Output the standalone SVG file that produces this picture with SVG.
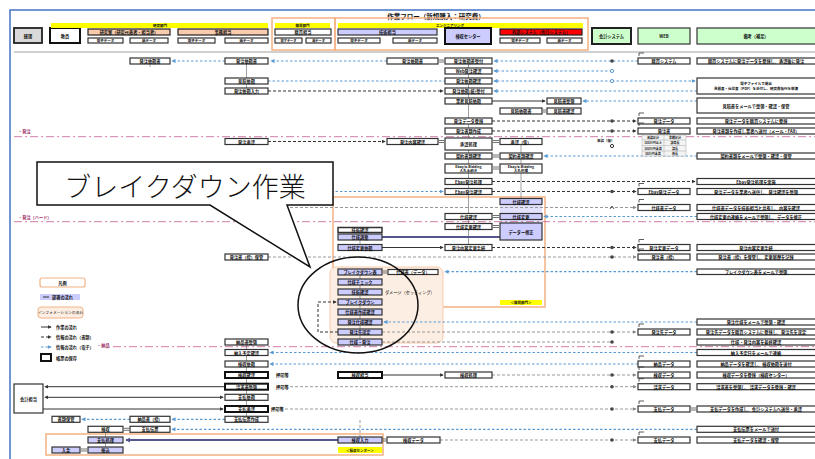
<svg xmlns="http://www.w3.org/2000/svg" width="815" height="459" viewBox="0 0 815 459">
<style>
.t{font-family:"Noto Sans CJK JP","Noto Sans",sans-serif;font-size:4.2px;fill:#111;text-anchor:middle;dominant-baseline:central;font-weight:bold}
.tl{font-family:"Noto Sans CJK JP","Noto Sans",sans-serif;font-size:4.2px;fill:#111;dominant-baseline:central;font-weight:bold}
.tp{font-family:"Noto Sans CJK JP","Noto Sans",sans-serif;font-size:4.2px;fill:#a0306a;dominant-baseline:central;font-weight:bold}
.w{fill:#fff;stroke:#333;stroke-width:1.2}
.bw{fill:#fff;stroke:#111;stroke-width:2}
.p{fill:#ccccff;stroke:#333;stroke-width:1.2}
.gb{fill:#ccffcc;stroke:#333;stroke-width:1.2}
.ob{fill:none;stroke:#f4b183;stroke-width:1.5}
.y{fill:#ffff00}
.bl{stroke:#5b9bd5;stroke-width:1.2;stroke-dasharray:2.5 2;fill:none}
.bk{stroke:#333;stroke-width:1;stroke-dasharray:3 2;fill:none}
.gy{stroke:#999;stroke-width:1;stroke-dasharray:3 2;fill:none}
.sl{stroke:#333;stroke-width:1;fill:none}
.pk{stroke:#c0508a;stroke-width:1;stroke-dasharray:8 3 2 3;fill:none;opacity:.75}
.pu{stroke:#55558f;stroke-width:2;fill:none}
.vt{stroke:#888;stroke-width:.8;fill:none}
.eq{stroke:#333;stroke-width:.7;fill:none}
.dt{fill:#444}
.ic{stroke:#333;stroke-width:.8;fill:none}
</style>
<defs>
<marker id="ak" viewBox="0 0 6 6" refX="5" refY="3" markerWidth="4" markerHeight="4" orient="auto-start-reverse"><path d="M0,0L6,3L0,6z" fill="#333"/></marker>
<marker id="ab" viewBox="0 0 6 6" refX="5" refY="3" markerWidth="3.5" markerHeight="3.5" orient="auto"><path d="M0,0L6,3L0,6z" fill="#5b9bd5"/></marker>
<marker id="ag" viewBox="0 0 6 6" refX="5" refY="3" markerWidth="4" markerHeight="4" orient="auto"><path d="M0,0L6,3L0,6z" fill="#888"/></marker>
<marker id="ap" viewBox="0 0 6 6" refX="5" refY="3" markerWidth="2.5" markerHeight="2.5" orient="auto"><path d="M0,0L6,3L0,6z" fill="#55558f"/></marker>
</defs>
<rect width="815" height="459" fill="#fff"/>
<g id="frame">
<path d="M10,459V10H815" fill="none" stroke="#4472c4" stroke-width="1.5"/>
<text x="436" y="16" class="t" style="font-size:6.5px">作業フロー（新規購入：研究費）</text>
<line x1="14" y1="52" x2="815" y2="52" stroke="#d0d0d0" stroke-width="2"/>
</g>
<g id="header">
<g id="h-keiri"><rect x="14" y="28" width="28" height="15" fill="#d9d9d9" stroke="#222" stroke-width="1.8"/><text x="28" y="35.5" class="t">経理</text></g>
<g id="h-kyoin"><rect x="50" y="28" width="30" height="15" class="bw"/><text x="65" y="35.5" class="t">教員</text></g>
<g id="h-deptA"><rect x="51" y="23" width="217" height="5" class="y"/><text x="160" y="25.5" class="t" style="font-size:3.5px">研究部門</text>
<rect x="88" y="29" width="82" height="6" fill="#f8cbad" stroke="#222" stroke-width="1.2"/><text x="129" y="32" class="t">研究室（研究代表者・担当者）</text>
<rect x="178" y="29" width="90" height="6" fill="#f8cbad" stroke="#222" stroke-width="1.2"/><text x="223" y="32" class="t">事務担当</text>
<rect x="88" y="38" width="35" height="5" class="w"/><text x="105.5" y="40.5" class="t" style="font-size:3.5px">電子データ</text>
<rect x="130" y="38" width="38" height="5" class="w"/><text x="149" y="40.5" class="t" style="font-size:3.5px">紙データ</text>
<rect x="178" y="38" width="37" height="5" class="w"/><text x="196.5" y="40.5" class="t" style="font-size:3.5px">電子データ</text>
<rect x="225" y="38" width="43" height="5" class="w"/><text x="246.5" y="40.5" class="t" style="font-size:3.5px">紙データ</text></g>
<g id="h-deptB"><rect x="272" y="18" width="63" height="32" class="ob"/>
<rect x="275" y="23" width="55" height="5" class="y"/><text x="302.5" y="25.5" class="t" style="font-size:3.5px">購買部門</text>
<rect x="275" y="29" width="56" height="6" class="w"/><text x="303" y="32" class="t">購買担当</text>
<rect x="275" y="38" width="27" height="5" class="w"/><text x="288.5" y="40.5" class="t" style="font-size:3.2px">電子データ</text>
<rect x="306" y="38" width="25" height="5" class="w"/><text x="318.5" y="40.5" class="t" style="font-size:3.2px">紙データ</text></g>
<g id="h-deptC"><rect x="335" y="18" width="253" height="32" class="ob"/>
<rect x="338" y="23" width="245" height="5" class="y"/><text x="450" y="25.5" class="t" style="font-size:3.5px">エンジニアリング</text>
<rect x="338" y="29" width="99" height="6" class="p"/><text x="387.5" y="32" class="t">技術担当</text>
<rect x="445" y="28" width="46" height="16" fill="#ccccff" stroke="#111" stroke-width="2"/><text x="468" y="36" class="t">検収センター</text>
<rect x="500" y="29" width="82" height="6" fill="#ff0000" stroke="#222" stroke-width="1.2"/><text x="541" y="32" class="t">外部システム（会計システム）</text>
<rect x="338" y="38" width="42" height="5" class="w"/><text x="359" y="40.5" class="t" style="font-size:3.5px">電子データ</text>
<rect x="393" y="38" width="44" height="5" class="w"/><text x="415" y="40.5" class="t" style="font-size:3.5px">紙データ</text>
<rect x="500" y="38" width="40" height="5" class="w"/><text x="520" y="40.5" class="t" style="font-size:3.5px">電子データ</text>
<rect x="547" y="38" width="35" height="5" class="w"/><text x="564.5" y="40.5" class="t" style="font-size:3.5px">紙データ</text></g>
<g id="h-sys"><rect x="592" y="28" width="39" height="16" fill="#ccffcc" stroke="#222" stroke-width="2"/><text x="611.5" y="36" class="t">会計システム</text></g>
<g id="h-web"><rect x="638" y="28" width="52" height="16" class="gb"/><text x="664" y="36" class="t">WEB</text></g>
<g id="h-note"><rect x="697" y="28" width="122" height="16" class="gb"/><text x="756" y="36" class="t">備考（補足）</text></g>
</g>
<g id="regions">
<rect x="333" y="197" width="212" height="110" class="ob"/>
<rect x="500" y="199" width="42" height="41" fill="#e2e2ff"/>
<rect x="330" y="267" width="113" height="76" rx="6" fill="#fdeee3" stroke="#f8cbad" stroke-width="1"/>
<rect x="46" y="434" width="337" height="21" class="ob"/>
<rect x="500" y="300" width="42" height="5" class="y"/><text x="521" y="302.5" class="t" style="font-size:3.5px">＜購買部門＞</text>
<rect x="338" y="447" width="44" height="6" class="y"/><text x="360" y="450" class="t" style="font-size:3.5px">＜検収センター＞</text>
</g>
<g id="connectors">
<path class="vt" d="M468.5,61V250M521,141V200M360,233V245M360,272V342M246.5,64V78M246.5,84V88M246.5,344V350M246.5,355V361M246.5,367V372M246.5,378V384M246.5,389V394M246.5,400V406M246.5,412V416M150,64V67M105.5,432V447"/>
<path class="gy" d="M360,420V437"/>
<path class="pk" d="M14,136.7H815M14,221.7H815M113,346.7H815"/>
<path class="bl" d="M387,61H271" marker-end="url(#ab)"/>
<path class="bl" d="M225,61H172" marker-end="url(#ab)"/>
<path class="bl" d="M638,61H494" marker-end="url(#ab)"/>
<path class="bl" d="M612,71H494" marker-end="url(#ab)"/>
<path class="bl" d="M268,81H445"/>
<path class="bl" d="M612,81H494" marker-end="url(#ab)"/>
<path class="bl" d="M612,81H695" marker-end="url(#ab)"/>
<path class="bk" d="M268,91H443" marker-end="url(#ak)"/>
<path class="bl" d="M697,91H494" marker-end="url(#ab)"/>
<path class="sl" d="M492,101H545" marker-end="url(#ak)"/>
<path class="bl" d="M697,101H583" marker-end="url(#ab)"/>
<path class="bk" d="M492,121H636" marker-end="url(#ak)"/>
<path class="bk" d="M492,131H636" marker-end="url(#ak)"/>
<path class="bk" d="M268,141.5H385" marker-end="url(#ak)"/>
<path class="bl" d="M697,156H544" marker-end="url(#ab)"/>
<path class="bk" d="M492,181.5H695" marker-end="url(#ak)"/>
<path class="bl" d="M268,191.5H443" marker-end="url(#ab)"/>
<path class="bk" d="M492,191.5H636" marker-end="url(#ak)"/>
<path class="gy" d="M270,207.5H636" marker-end="url(#ag)"/>
<path class="bl" d="M697,216.5H544" marker-end="url(#ab)"/>
<path class="pu" d="M382,237H500"/>
<path class="sl" d="M382,247.5H443" marker-end="url(#ak)"/>
<path class="bk" d="M492,247.5H636" marker-end="url(#ak)"/>
<path class="gy" d="M268,257H636" marker-end="url(#ag)"/>
<path class="bl" d="M697,271.7H445" marker-end="url(#ab)"/>
<path class="bk" d="M338,332H318V302H336" marker-end="url(#ak)"/>
<path class="bl" d="M697,322H384" marker-end="url(#ab)"/>
<path class="gy" d="M382,332H636" marker-end="url(#ag)"/>
<path class="gy" d="M382,342H610"/>
<path class="bl" d="M697,352.5H270" marker-end="url(#ab)"/>
<path class="bl" d="M638,364H270" marker-end="url(#ab)"/>
<path class="sl" d="M382,375H443" marker-end="url(#ak)"/>
<path class="gy" d="M492,375H636" marker-end="url(#ag)"/>
<path class="sl" d="M225,386.7H45" marker-end="url(#ak)"/>
<path class="gy" d="M290,386.7H636" marker-end="url(#ag)"/>
<path class="sl" d="M45,397.3H223" marker-start="url(#ak)" marker-end="url(#ak)"/>
<path class="sl" d="M43,409H223" marker-end="url(#ak)"/>
<path class="gy" d="M280,409H636" marker-end="url(#ag)"/>
<path class="bl" d="M225,419.3H172" marker-end="url(#ab)"/>
<path class="bl" d="M130,419.3H82" marker-end="url(#ab)"/>
<path class="bl" d="M697,429.3H172" marker-end="url(#ab)"/>
<path class="pu" d="M338,440H126" marker-end="url(#ap)"/>
<path class="gy" d="M440,440H636" marker-end="url(#ag)"/>
<path class="eq" d="M439,60h5M439,62h5M543,110h3M543,112h3M439,140.5h5M439,142.5h5M493,140.5h6M493,142.5h6M493,155h6M493,157h6M493,167h6M493,169h6M493,215.5h6M493,217.5h6M493,225.5h6M493,227.5h6M383,271h4M383,273h4M124,428.3h5M124,430.3h5M383,439h3M383,441h3M81,449h6M81,451h6M691,408h5M691,410h5"/>
<g id="dots">
<circle cx="612" cy="61" r="1.8" class="dt"/><circle cx="612" cy="71" r="1.6" fill="#fff" stroke="#5b9bd5"/><circle cx="612" cy="81" r="1.6" fill="#fff" stroke="#5b9bd5"/>
<circle cx="612" cy="121" r="1.8" class="dt"/><circle cx="612" cy="131" r="1.8" class="dt"/><circle cx="612" cy="146" r="1.6" fill="#fff" stroke="#333"/>
<circle cx="612" cy="191.5" r="1.8" class="dt"/><path d="M610,209l2,-3l2,3" class="ic"/>
<circle cx="612" cy="247.5" r="1.8" class="dt"/><circle cx="612" cy="257" r="1.8" class="dt"/>
<circle cx="612" cy="332" r="1.8" class="dt"/><circle cx="612" cy="342" r="1.8" class="dt"/>
<circle cx="612" cy="375" r="1.8" class="dt"/><circle cx="612" cy="386.7" r="1.8" class="dt"/><circle cx="612" cy="409" r="1.8" class="dt"/><circle cx="612" cy="440" r="1.8" class="dt"/>
</g>
</g>
<g id="nodes">
<g id="nA1"><rect x="130" y="58" width="40" height="6" class="w"/><text x="150" y="61" class="t">発注依頼書</text></g>
<g id="nA2"><rect x="130" y="416.3" width="40" height="6" class="w"/><text x="150" y="419.3" class="t">納品書（控）</text></g>
<g id="nA3"><rect x="130" y="426.3" width="40" height="6" class="w"/><text x="150" y="429.3" class="t">支払伝票</text></g>
<g id="nA0"><rect x="52" y="416.3" width="28" height="6" class="w"/><text x="66" y="419.3" class="t">書類保管</text></g>
<g id="nL1"><rect x="88" y="426.3" width="35" height="6" class="w"/><text x="105.5" y="429.3" class="t">検収</text></g>
<g id="nL2"><rect x="88" y="437" width="35" height="6" class="p"/><text x="105.5" y="440" class="t">支払処理</text></g>
<g id="nL3"><rect x="88" y="447" width="35" height="6" class="p"/><text x="105.5" y="450" class="t">振込</text></g>
<g id="nL0"><rect x="52" y="447" width="28" height="6" class="p"/><text x="66" y="450" class="t">入金</text></g>
<g id="nLeft"><rect x="14" y="384" width="29" height="29" class="w"/><text x="28.5" y="398.5" class="t">会計担当</text></g>
<g id="nB1"><rect x="225" y="58" width="43" height="6" class="w"/><text x="246.5" y="61" class="t">発注依頼書</text></g>
<g id="nB3"><rect x="225" y="78" width="43" height="6" class="w"/><text x="246.5" y="81" class="t">見積依頼</text></g>
<g id="nB4"><rect x="225" y="88" width="43" height="6" class="w"/><text x="246.5" y="91" class="t">発注依頼入力</text></g>
<g id="nB9"><rect x="225" y="138.5" width="43" height="6" class="w"/><text x="246.5" y="141.5" class="t">発注承認</text></g>
<g id="nB257"><rect x="225" y="254" width="43" height="6" class="w"/><text x="246.5" y="257" class="t">発注書（控）保管</text></g>
<g id="nB342"><rect x="225" y="339" width="43" height="6" class="w"/><text x="246.5" y="342" class="t">納品書受領</text></g>
<g id="nB352"><rect x="225" y="349.5" width="43" height="6" class="w"/><text x="246.5" y="352.5" class="t">納入予定確認</text></g>
<g id="nB364"><rect x="225" y="361" width="43" height="6" class="w"/><text x="246.5" y="364" class="t">検収依頼</text></g>
<g id="nB375"><rect x="225" y="372" width="43" height="6" class="bw"/><text x="246.5" y="375" class="t">検収確認</text><text x="276" y="375" class="tl">押印等</text></g>
<g id="nB386"><rect x="225" y="383.7" width="43" height="6" class="bw"/><text x="246.5" y="386.7" class="t">請求書受領</text><text x="276" y="386.7" class="tl">押印等</text></g>
<g id="nB397"><rect x="225" y="394.3" width="43" height="6" class="w"/><text x="246.5" y="397.3" class="t">支払依頼</text></g>
<g id="nB409"><rect x="225" y="406" width="43" height="6" class="bw"/><text x="246.5" y="409" class="t">支払承認</text><text x="271" y="409" class="tl">押印等</text></g>
<g id="nB419"><rect x="225" y="416.3" width="43" height="6" class="w"/><text x="246.5" y="419.3" class="t">支払伝票作成</text></g>
<g id="nC1"><rect x="387" y="58" width="51" height="6" class="w"/><text x="412.5" y="61" class="t">発注依頼書</text></g>
<g id="nC9"><rect x="387" y="138.5" width="51" height="6" class="w"/><text x="412.5" y="141.5" class="t">発注内容確認</text></g>
<g id="nD1"><rect x="445" y="58" width="47" height="6" class="w"/><text x="468.5" y="61" class="t">発注依頼書受付</text></g>
<g id="nD2"><rect x="445" y="68" width="47" height="6" class="w"/><text x="468.5" y="71" class="t">Web発注確認</text></g>
<g id="nD3"><rect x="445" y="78" width="47" height="6" class="w"/><text x="468.5" y="81" class="t">発注依頼確認</text></g>
<g id="nD4"><rect x="445" y="88" width="47" height="6" class="w"/><text x="468.5" y="91" class="t">発注依頼(紙)受付</text></g>
<g id="nD5"><rect x="445" y="98" width="47" height="6" class="w"/><text x="468.5" y="101" class="t">業者見積依頼</text></g>
<g id="nD7"><rect x="445" y="118" width="47" height="6" class="w"/><text x="468.5" y="121" class="t">発注データ登録</text></g>
<g id="nD8"><rect x="445" y="128" width="47" height="6" class="w"/><text x="468.5" y="131" class="t">発注書類作成</text></g>
<g id="nD9"><rect x="445" y="138" width="47" height="12" class="w"/><text x="468.5" y="144" class="t">承認処理</text></g>
<g id="nD10"><rect x="445" y="153" width="47" height="6" class="w"/><text x="468.5" y="156" class="t">契約書類確認</text></g>
<g id="nD11"><rect x="445" y="164" width="47" height="9" class="w"/><text x="468.5" y="166.5" class="t" style="font-size:3.5px">Ebay/e-Bidding</text><text x="468.5" y="170.5" class="t" style="font-size:3.5px">入札手続き</text></g>
<g id="nD12"><rect x="445" y="178.5" width="47" height="6" class="w"/><text x="468.5" y="181.5" class="t">Ebay発注処理</text></g>
<g id="nD13"><rect x="445" y="188.5" width="47" height="6" class="w"/><text x="468.5" y="191.5" class="t">Ebay発注確認</text></g>
<g id="nD216"><rect x="445" y="213.5" width="47" height="6" class="w"/><text x="468.5" y="216.5" class="t">仕様確認</text></g>
<g id="nD226"><rect x="445" y="223.5" width="47" height="6" class="w"/><text x="468.5" y="226.5" class="t">仕様変更確認</text></g>
<g id="nD247"><rect x="445" y="244.5" width="47" height="6" class="w"/><text x="468.5" y="247.5" class="t">発注内容変更手続</text></g>
<g id="nD375"><rect x="445" y="372" width="47" height="6" class="w"/><text x="468.5" y="375" class="t">検収処理</text></g>
<g id="nE6"><rect x="500" y="108" width="42" height="6" class="w"/><text x="521" y="111" class="t">見積依頼書</text></g>
<g id="nE9"><rect x="500" y="138.5" width="42" height="6" class="w"/><text x="521" y="141.5" class="t">承認（仮）</text></g>
<g id="nE10"><rect x="500" y="153" width="42" height="6" class="w"/><text x="521" y="156" class="t">契約書類確認</text></g>
<g id="nE11"><rect x="500" y="164" width="42" height="9" class="w"/><text x="521" y="166.5" class="t" style="font-size:3.5px">Ebay/e-Bidding</text><text x="521" y="170.5" class="t" style="font-size:3.5px">入札処理</text></g>
<g id="nE201"><rect x="500" y="198.5" width="42" height="6" class="p"/><text x="521" y="201.5" class="t">仕様確認</text></g>
<g id="nE216"><rect x="500" y="213.5" width="42" height="6" class="p"/><text x="521" y="216.5" class="t">仕様変更</text></g>
<g id="nE230"><rect x="500" y="223" width="42" height="17" class="p"/><text x="521" y="231.5" class="t">データー修正</text></g>
<g id="nF5"><rect x="547" y="98" width="34" height="6" class="w"/><text x="564" y="101" class="t">見積書受領</text></g>
<g id="nF6"><rect x="547" y="108" width="34" height="6" class="w"/><text x="564" y="111" class="t">見積書確認</text></g>
<g id="nK1"><rect x="338" y="227.5" width="44" height="5" fill="#fff" stroke="#333" stroke-width="1.5"/><text x="360" y="230" class="t">技術確認</text></g>
<g id="nK2"><rect x="338" y="234" width="44" height="6" class="p"/><text x="360" y="237" class="t">仕様調整</text></g>
<g id="nK3"><rect x="338" y="244.5" width="44" height="6" class="p"/><text x="360" y="247.5" class="t">仕様変更依頼</text></g>
<g id="nBD1"><rect x="338" y="269" width="44" height="6" class="p"/><text x="360" y="272" class="t">ブレイクダウン表</text></g>
<g id="nBD2"><rect x="338" y="279" width="44" height="6" class="p"/><text x="360" y="282" class="t">仕様チェック</text></g>
<g id="nBD3"><rect x="338" y="289" width="44" height="6" class="p"/><text x="360" y="292" class="t">技術確認</text><text x="385" y="292" class="tl" style="font-weight:normal">ダメージ（セッティング）</text></g>
<g id="nBD4"><rect x="338" y="299" width="44" height="6" class="p"/><text x="360" y="302" class="t">ブレイクダウン</text></g>
<g id="nBD5"><rect x="338" y="309" width="44" height="6" class="p"/><text x="360" y="312" class="t">仕様書作成確認</text></g>
<g id="nBD6"><rect x="338" y="319" width="44" height="6" class="p"/><text x="360" y="322" class="t">発注仕様確認</text></g>
<g id="nBD7"><rect x="338" y="329" width="44" height="6" class="p"/><text x="360" y="332" class="t">発注先選定</text></g>
<g id="nBD8"><rect x="338" y="339" width="44" height="6" class="p"/><text x="360" y="342" class="t">仕様・発注</text></g>
<g id="nBDx"><rect x="388" y="269.5" width="50" height="5" class="w"/><text x="413" y="272" class="t">仕様書（データ）</text></g>
<g id="nK375"><rect x="338" y="372" width="44" height="6" class="bw"/><text x="360" y="375" class="t">検収担当</text></g>
<g id="nK440"><rect x="338" y="437" width="44" height="6" class="p"/><text x="360" y="440" class="t">検収入力</text></g>
<g id="nC440"><rect x="387" y="437" width="53" height="6" class="w"/><text x="413.5" y="440" class="t">検収データ</text></g>
<g id="nG61"><rect x="638" y="58" width="52" height="6" class="w"/><path d="M639,56v-3h5" class="ic"/><text x="664" y="61" class="t">購買システム</text></g>
<g id="nG121"><rect x="638" y="118" width="52" height="6" class="w"/><path d="M639,116v-3h5" class="ic"/><text x="664" y="121" class="t">発注データ</text></g>
<g id="nG131"><rect x="638" y="128" width="52" height="6" class="w"/><path d="M639,126v-3h5" class="ic"/><text x="664" y="131" class="t">発注書</text></g>
<g id="nTable"><rect x="642" y="135" width="44" height="21" fill="#f4f4f4" stroke="#aaa" stroke-width=".5"/><path d="M664,135V156M642,140H686M642,145.5H686M642,151H686" stroke="#aaa" stroke-width=".5"/>
<text x="653" y="137.5" class="t" style="font-size:3px">承認区分</text><text x="675" y="137.5" class="t" style="font-size:3px">金額区分</text>
<text x="653" y="143" class="t" style="font-size:3px">100万円以上</text><text x="675" y="143" class="t" style="font-size:3px">部局長</text>
<text x="653" y="148.5" class="t" style="font-size:3px">100万円未満</text><text x="675" y="148.5" class="t" style="font-size:3px">課長</text>
<text x="653" y="153.5" class="t" style="font-size:3px">50万円未満</text><text x="675" y="153.5" class="t" style="font-size:3px">係長</text></g>
<text x="597" y="140" class="tl" style="font-size:3.5px">承認（仮）</text>
<g id="nG191"><rect x="638" y="188.5" width="52" height="6" class="w"/><path d="M639,186.5v-3h5" class="ic"/><text x="664" y="191.5" class="t">Ebay発注データ</text></g>
<g id="nG207"><rect x="638" y="204.5" width="52" height="6" class="w"/><path d="M639,202.5v-3h5" class="ic"/><text x="664" y="207.5" class="t">仕様書データ</text></g>
<g id="nG247"><rect x="638" y="244.5" width="52" height="6" class="w"/><path d="M639,242.5v-3h5" class="ic"/><text x="664" y="247.5" class="t">発注変更データ</text></g>
<g id="nG257"><rect x="638" y="254" width="52" height="6" class="w"/><path d="M639,252v-3h5" class="ic"/><text x="664" y="257" class="t">発注書（控）</text></g>
<g id="nG332"><rect x="638" y="329" width="52" height="6" class="w"/><path d="M639,327v-3h5" class="ic"/><text x="664" y="332" class="t">発注先データ</text></g>
<g id="nG364"><rect x="638" y="361" width="52" height="6" class="w"/><path d="M639,359v-3h5" class="ic"/><text x="664" y="364" class="t">納品データ</text></g>
<g id="nG375"><rect x="638" y="372" width="52" height="6" class="w"/><path d="M639,370v-3h5" class="ic"/><text x="664" y="375" class="t">検収データ</text></g>
<g id="nG386"><rect x="638" y="383.7" width="52" height="6" class="w"/><path d="M639,381.7v-3h5" class="ic"/><text x="664" y="386.7" class="t">請求データ</text></g>
<g id="nG409"><rect x="638" y="406" width="52" height="6" class="w"/><path d="M639,404v-3h5" class="ic"/><text x="664" y="409" class="t">支払データ</text></g>
<g id="nG440"><rect x="638" y="437" width="52" height="6" class="w"/><path d="M639,435v-3h5" class="ic"/><text x="664" y="440" class="t">支払データ</text></g>
<g id="nH61"><rect x="697" y="58" width="122" height="6" class="w"/><text x="756" y="61" class="t">購買システムに発注データを登録し、承認後に発注</text></g>
<g id="nH81"><rect x="697" y="78" width="122" height="16" class="w"/><text x="756" y="83" class="t" style="font-size:3.5px">電子ファイルで提出</text><text x="756" y="88.5" class="t" style="font-size:3.5px">見積書・仕様書（PDF）を添付し、研究費執行を申請</text></g>
<g id="nH101"><rect x="697" y="98" width="122" height="15" class="w"/><text x="756" y="105.5" class="t">見積書をメールで受領・確認・保管</text></g>
<g id="nH121"><rect x="697" y="118" width="122" height="6" class="w"/><text x="756" y="121" class="t">発注データを購買システムに登録</text></g>
<g id="nH131"><rect x="697" y="128" width="122" height="6" class="w"/><text x="756" y="131" class="t">発注書類を作成し業者へ送付（メール・FAX）</text></g>
<g id="nH156"><rect x="697" y="153" width="122" height="6" class="w"/><text x="756" y="156" class="t">契約書類をメールで受領・確認・保管</text></g>
<g id="nH181"><rect x="697" y="178.5" width="122" height="6" class="w"/><text x="756" y="181.5" class="t">Ebay発注処理を実施</text></g>
<g id="nH191"><rect x="697" y="188.5" width="122" height="6" class="w"/><text x="756" y="191.5" class="t">発注データを業者へ送信し、発注確認を受領</text></g>
<g id="nH207"><rect x="697" y="204.5" width="122" height="6" class="w"/><text x="756" y="207.5" class="t">仕様書データを技術担当と共有し、内容を確認</text></g>
<g id="nH216"><rect x="697" y="213.5" width="122" height="6" class="w"/><text x="756" y="216.5" class="t">仕様変更の連絡をメールで受領し、データを修正</text></g>
<g id="nH247"><rect x="697" y="244.5" width="122" height="6" class="w"/><text x="756" y="247.5" class="t">発注内容変更手続</text></g>
<g id="nH257"><rect x="697" y="254" width="122" height="6" class="w"/><text x="756" y="257" class="t">発注書（控）を保管し、変更履歴を記録</text></g>
<g id="nH271"><rect x="697" y="269" width="122" height="5.5" class="w"/><text x="756" y="271.7" class="t">ブレイクダウン表をメールで受領</text></g>
<g id="nH322"><rect x="697" y="319" width="122" height="6" class="w"/><text x="756" y="322" class="t">発注仕様をメールで受領・確認</text></g>
<g id="nH332"><rect x="697" y="329" width="122" height="6" class="w"/><text x="756" y="332" class="t">発注先データを購買システムに登録し、発注先を選定</text></g>
<g id="nH342"><rect x="697" y="339" width="122" height="6" class="w"/><text x="756" y="342" class="t">仕様・発注内容を最終確認</text></g>
<g id="nH352"><rect x="697" y="349.5" width="122" height="6" class="w"/><text x="756" y="352.5" class="t">納入予定日をメールで連絡</text></g>
<g id="nH364"><rect x="697" y="361" width="122" height="6" class="w"/><text x="756" y="364" class="t">納品データを確認し、検収依頼を送付</text></g>
<g id="nH375"><rect x="697" y="372" width="122" height="6" class="w"/><text x="756" y="375" class="t">検収データを登録（検収センター）</text></g>
<g id="nH386"><rect x="697" y="383.7" width="122" height="6" class="w"/><text x="756" y="386.7" class="t">請求書を受領し、請求データを登録・確認</text></g>
<g id="nH409"><rect x="697" y="406" width="122" height="6" class="w"/><text x="756" y="409" class="t">支払データを作成し、会計システムへ送信・承認</text></g>
<g id="nH429"><rect x="697" y="426.3" width="122" height="6" class="w"/><text x="756" y="429.3" class="t">支払伝票をメールで送付</text></g>
<g id="nH440"><rect x="697" y="437" width="122" height="6" class="w"/><text x="756" y="440" class="t">支払データを確認・保管</text></g>
</g>
<g id="legend">
<text x="18" y="131" class="tp">・発注</text>
<text x="18" y="216.5" class="tp">・発注（ハード）</text>
<text x="97" y="344.5" class="tp">・納品</text>
<rect x="40" y="278" width="45" height="9" rx="2" fill="#fff" stroke="#f4b183" stroke-width="1.2"/><text x="62.5" y="282.5" class="t">凡例</text>
<rect x="40" y="294" width="40" height="6" fill="#ccccff"/><path d="M43,297h6" class="sl"/><text x="52" y="297" class="tl">部署の流れ</text>
<rect x="38" y="307" width="45" height="11" rx="3" fill="#fdeee3" stroke="#f4b183" stroke-width="1"/><text x="60.5" y="312.5" class="t" style="font-weight:normal;font-size:3.8px">インフォメーションの流れ</text>
<path d="M41,327h10" class="sl" marker-end="url(#ak)"/><text x="56" y="327" class="tl">作業の流れ</text>
<path d="M41,337h10" class="bk" marker-end="url(#ak)"/><text x="56" y="337" class="tl">情報の流れ（書類）</text>
<path d="M41,347h10" class="bl" marker-end="url(#ab)"/><text x="56" y="347" class="tl">情報の流れ（電子）</text>
<rect x="41" y="354" width="10" height="7" fill="#fff" stroke="#111" stroke-width="2"/><text x="56" y="357.5" class="tl">帳票の保存</text>
</g>
<g id="callout">
<path d="M37,162H333V205H287L310,267L210,205H37Z" fill="#fff" stroke="#111" stroke-width="1.5" stroke-linejoin="miter"/>
<text x="185" y="185" style="font-family:'Noto Sans CJK JP',sans-serif;font-size:27px;fill:#111;text-anchor:middle;dominant-baseline:central;font-weight:300">ブレイクダウン作業</text>
<ellipse cx="358" cy="305" rx="60" ry="48" fill="none" stroke="#111" stroke-width="1.5"/>
</g>
</svg>
